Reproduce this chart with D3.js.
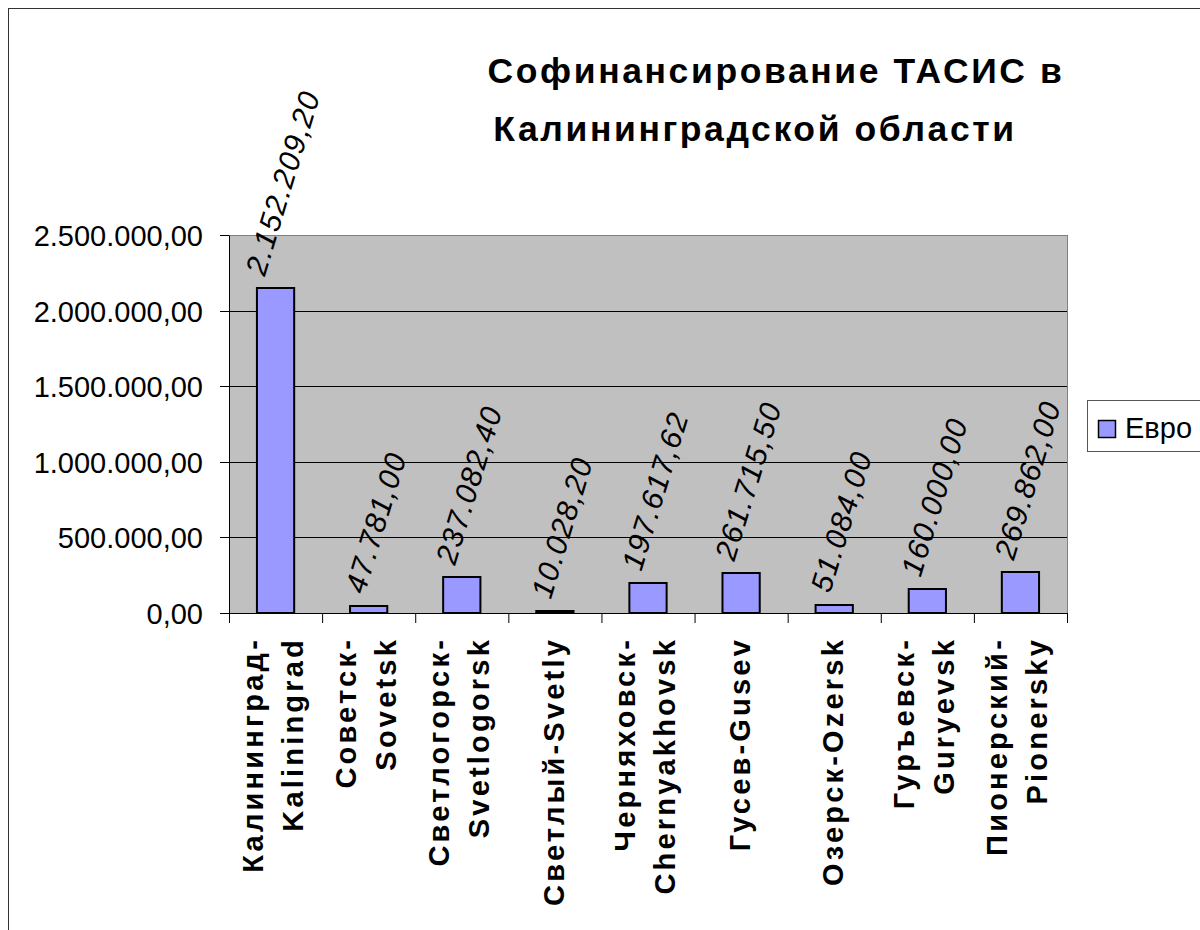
<!DOCTYPE html>
<html><head><meta charset="utf-8">
<script src="https://cdn.jsdelivr.net/npm/d3@7"></script>
<style>body{margin:0;background:#fff}svg{display:block}</style>
</head><body>
<svg id="c" width="1200" height="930"></svg>
<script>
// ---- data ----
const categoryLines = [
  ["Калининград-", "Kaliningrad"],
  ["Советск-", "Sovetsk"],
  ["Светлогорск-", "Svetlogorsk"],
  ["Светлый-Svetly"],
  ["Черняховск-", "Chernyakhovsk"],
  ["Гусев-Gusev"],
  ["Озерск-Ozersk"],
  ["Гуръевск-", "Guryevsk"],
  ["Пионерский-", "Pionersky"]
];
const categories = categoryLines.map(l => l.join(""));
const euroValues = [2152209.20, 47781.00, 237082.40, 10028.20, 197617.62, 261715.50, 51084.00, 160000.00, 269862.00];
const yTicks = [0, 500000, 1000000, 1500000, 2000000, 2500000];
const titleLines = ["Софинансирование ТАСИС в", "Калининградской области"];
const seriesName = "Евро";

// ---- layout ----
const FONT = "'Liberation Sans', Arial, sans-serif";
const L = 229, R = 1067, T = 235, B = 613;
const svg = d3.select("#c");
const fmt = d3.formatLocale({decimal: ",", thousands: ".", grouping: [3], currency: ["", ""]}).format(",.2f");

// outer chart border
svg.append("rect").attr("x", 8.5).attr("y", 8.5).attr("width", 1300).attr("height", 1000)
  .attr("fill", "#fff").attr("stroke", "#333").attr("stroke-width", 1);

// title
svg.append("g").selectAll("text").data(titleLines).join("text")
  .attr("x", (d, i) => i === 0 ? 776 : 755)
  .attr("y", (d, i) => i === 0 ? 83 : 141)
  .attr("text-anchor", "middle")
  .attr("font-family", FONT).attr("font-weight", "bold").attr("font-size", 35.5)
  .attr("letter-spacing", "2.6px")
  .text(d => d);

const x = d3.scaleBand().domain(categories).range([L, R]).paddingInner(0.6).paddingOuter(0.3);
const y = d3.scaleLinear().domain([0, 2500000]).rangeRound([B, T]);
const xi = d3.scaleLinear().domain([0, categories.length]).range([L, R]);

// plot area
svg.append("rect").attr("x", L + 0.5).attr("y", T + 0.5).attr("width", R - L).attr("height", B - T)
  .attr("fill", "#c0c0c0").attr("stroke", "#808080").attr("stroke-width", 1);

// gridlines
svg.append("g").selectAll("line").data(yTicks.filter(v => v > 0 && v < 2500000)).join("line")
  .attr("x1", L).attr("x2", R)
  .attr("y1", d => y(d) + 0.5).attr("y2", d => y(d) + 0.5)
  .attr("stroke", "#000").attr("stroke-width", 1);

// bars
svg.append("g").selectAll("rect").data(euroValues).join("rect")
  .attr("x", (d, i) => x(categories[i]))
  .attr("y", d => y(d))
  .attr("width", x.bandwidth())
  .attr("height", d => B - y(d))
  .attr("fill", "#9999ff").attr("stroke", "#000").attr("stroke-width", 2);

// y axis
const ya = svg.append("g").attr("transform", `translate(${L},0)`)
  .call(d3.axisLeft(y).tickValues(yTicks).tickSize(9).tickSizeOuter(0).tickPadding(17).tickFormat(fmt));
ya.selectAll("text").attr("font-family", FONT).attr("font-size", 29).attr("fill", "#000").attr("dy", "0.35em");
ya.selectAll("line,path").attr("stroke", "#000");

// x axis
const xa = svg.append("g").attr("transform", `translate(0,${B})`)
  .call(d3.axisBottom(xi).tickValues(d3.range(categories.length + 1)).tickSize(10).tickSizeOuter(0).tickFormat(() => ""));
xa.selectAll("line,path").attr("stroke", "#000");

// category labels
const cl = svg.append("g").selectAll("text").data(categoryLines).join("text")
  .attr("transform", (d, i) => `translate(${x(categories[i]) + x.bandwidth() / 2},637) rotate(-90)`)
  .attr("text-anchor", "end")
  .attr("font-family", FONT).attr("font-weight", "bold").attr("font-size", 29)
  .attr("letter-spacing", "3.2px");
cl.selectAll("tspan").data(d => d.map((t, j) => ({t, j, n: d.length}))).join("tspan")
  .attr("x", 0)
  .attr("y", o => o.n === 1 ? 9 : (o.j === 0 ? -13 : 27))
  .text(o => o.t);

// data labels
const ANG = 73, rad = ANG * Math.PI / 180;
const dl = svg.append("g").selectAll("text").data(euroValues).join("text")
  .attr("text-anchor", "middle").attr("dy", "0.35em")
  .attr("font-family", FONT).attr("font-style", "italic").attr("font-size", 30)
  .attr("letter-spacing", "1.3px")
  .text(d => fmt(d));
dl.each(function(d, i) {
  const len = this.getComputedTextLength();
  const h = 0.72 * 30;
  const hh = (len * Math.sin(rad) + h * Math.cos(rad)) / 2;
  const cx = x(categories[i]) + x.bandwidth() / 2 + 7;
  const cy = y(d) - 11 - hh;
  d3.select(this).attr("transform", `translate(${cx},${cy}) rotate(${-ANG})`);
});

// legend
const lg = svg.append("g");
lg.append("rect").attr("x", 1087.5).attr("y", 400.5).attr("width", 140).attr("height", 51)
  .attr("fill", "#fff").attr("stroke", "#555");
lg.append("rect").attr("x", 1098.5).attr("y", 420.5).attr("width", 17).attr("height", 17)
  .attr("fill", "#9999ff").attr("stroke", "#000").attr("stroke-width", 1.5);
lg.append("text").attr("x", 1125).attr("y", 438)
  .attr("font-family", FONT).attr("font-size", 29).text(seriesName);
</script>
</body></html>
